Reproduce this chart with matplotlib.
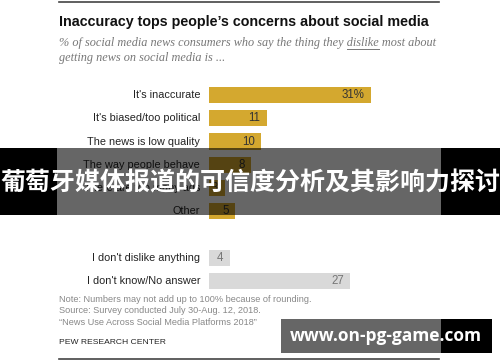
import numpy as np
import matplotlib
matplotlib.use('Agg')
import matplotlib.pyplot as plt
from matplotlib.patches import Rectangle
from matplotlib.lines import Line2D

###############################################################################
# Data
###############################################################################
labels = [
    "It's inaccurate", "It's biased/too political", 'The news is low quality',
    'The way people behave', 'There are too many ads', 'Other',
    "I don't dislike anything", "I don't know/No answer"
]
values = [31, 11, 10, 8, 3, 5, 4, 27]
valueText = ['31%', '11', '10', '8', '3', '5', '4', '27']
rows = [0, 1, 2, 3, 4, 5, 7, 8]
gray = [False, False, False, False, False, False, True, True]

title = 'Inaccuracy tops people\u2019s concerns about social media'
subPre = '% of social media news consumers who say the thing they '
subKey = 'dislike'
subPost = ' most about'
sub2 = 'getting news on social media is ...'
notes = [
    'Note: Numbers may not add up to 100% because of rounding.',
    'Source: Survey conducted July 30-Aug. 12, 2018.',
    '\u201cNews Use Across Social Media Platforms 2018\u201d'
]
banner = '葡萄牙媒体报道的可信度分析及其影响力探讨'
mark = 'www.on-pg-game.com'

(W, H) = (500, 362)
(GOLD, LGRAY) = ('#d4a82f', '#d9d9d9')


def fx(x):
    return x / W


def fy(y):
    return 1 - y / H


###############################################################################
# Figure
###############################################################################
fig = plt.figure(figsize=(W / 100, H / 100), dpi=100)
fig.patch.set_facecolor('white')

# bar axes: 0 -> x=209px, 5.23px per unit
pxu = 5.23
ax = fig.add_axes([fx(209), fy(292.6), fx(40 * pxu), 209.2 / H])
ax.set_xlim(0, 40)
ax.set_ylim(8.5, -0.5)
ax.axis('off')
for (lb, r, v, t, g) in zip(labels, rows, values, valueText, gray):
    ax.barh(r, v, height=0.7, color=LGRAY if g else GOLD, lw=0)
    ax.text(
            v - 1.2, r, t, ha='right', va='center', fontsize=8.3,
            family='Liberation Sans', color='#777777' if g else '#333333'
        )
    ax.text(
            -1.7, r, lb, ha='right', va='center', fontsize=7.8,
            family='Liberation Sans', color='#222222'
        )

# rules
fig.add_artist(Line2D([fx(59), fx(439)], [fy(2), fy(2)], color='#444444',
                      lw=1.2))
fig.add_artist(Line2D([fx(59), fx(439)], [fy(359), fy(359)], color='#444444',
                      lw=1.2))

# title & subtitle
fig.text(fx(59), fy(22), title, fontsize=10.3, fontweight='bold',
         family='Liberation Sans', color='#111111', va='center')
subKw = dict(fontsize=8.8, style='italic', family='Liberation Serif',
             color='#777777', va='center')
fig.text(fx(59), fy(43), subPre + subKey + subPost, **subKw)
fig.text(fx(59), fy(57.5), sub2, **subKw)
fig.canvas.draw()
rend = fig.canvas.get_renderer()
tmpA = fig.text(fx(59), fy(43), subPre, alpha=0, **subKw)
tmpB = fig.text(fx(59), fy(43), subPre + subKey, alpha=0, **subKw)
(xa, xb) = (tmpA.get_window_extent(rend).x1, tmpB.get_window_extent(rend).x1)
fig.add_artist(Line2D([xa / W, xb / W], [fy(48.5), fy(48.5)],
                      color='#777777', lw=0.7))

# notes
for (i, n) in enumerate(notes):
    fig.text(fx(59), fy(299 + 11.7 * i), n, fontsize=6.6,
             family='Liberation Sans', color='#888888', va='center')
fig.text(fx(59), fy(342), 'PEW RESEARCH CENTER', fontsize=6.1,
         family='Liberation Sans', color='#222222', va='center')

# overlay banner
fig.add_artist(Rectangle((0, fy(215)), fx(57), (215 - 148) / H,
                         transform=fig.transFigure, color='black', lw=0))
fig.add_artist(Rectangle((fx(441), fy(215)), fx(59), (215 - 148) / H,
                         transform=fig.transFigure, color='black', lw=0))
fig.add_artist(Rectangle((fx(57), fy(215)), fx(384), (215 - 148) / H,
                         transform=fig.transFigure, color='black', alpha=0.6,
                         lw=0))
fig.text(0.5, fy(183), banner, fontsize=18, fontweight='bold',
         family=['Noto Sans CJK SC', 'DejaVu Sans'], color='white',
         ha='center', va='center')

# watermark
fig.add_artist(Rectangle((fx(281), fy(353)), fx(160), 34 / H,
                         transform=fig.transFigure, color='black', alpha=0.6,
                         lw=0))
fig.add_artist(Rectangle((fx(441), fy(353)), fx(51), 34 / H,
                         transform=fig.transFigure, color='black', lw=0))
fig.text(fx(386), fy(336), mark, fontsize=12.5, fontweight='bold',
         family='Open Sans', color='white', ha='center', va='center')

fig.savefig('out.png', dpi=100)
